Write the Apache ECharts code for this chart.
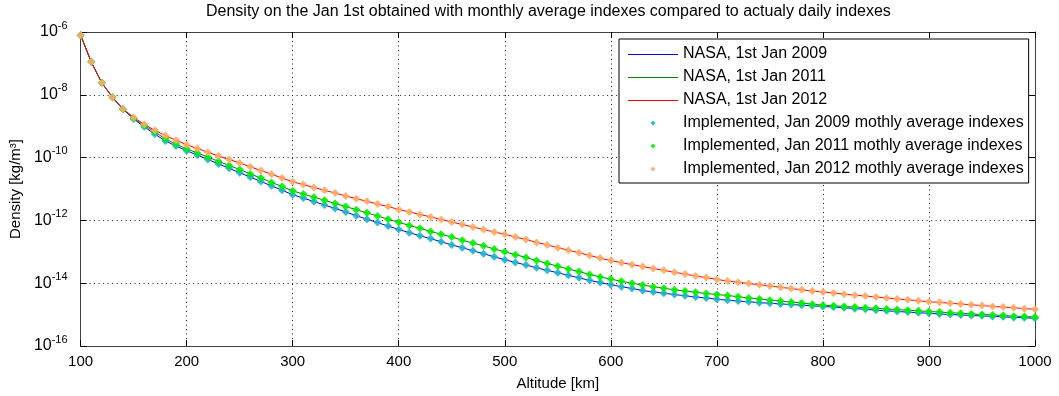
<!DOCTYPE html>
<html>
<head>
<meta charset="utf-8">
<script src="https://cdn.jsdelivr.net/npm/echarts@6/dist/echarts.min.js"></script>
<style>
  html, body { margin: 0; padding: 0; background: #fff; }
  #chart { width: 1059px; height: 396px; }
</style>
</head>
<body>
<div id="chart"></div>
<script>
// altitude samples (km), one every 10 km as in the picture
const altitudes = [
  100, 110, 120, 130, 140, 150, 160, 170, 180, 190,
  200, 210, 220, 230, 240, 250, 260, 270, 280, 290,
  300, 310, 320, 330, 340, 350, 360, 370, 380, 390,
  400, 410, 420, 430, 440, 450, 460, 470, 480, 490,
  500, 510, 520, 530, 540, 550, 560, 570, 580, 590,
  600, 610, 620, 630, 640, 650, 660, 670, 680, 690,
  700, 710, 720, 730, 740, 750, 760, 770, 780, 790,
  800, 810, 820, 830, 840, 850, 860, 870, 880, 890,
  900, 910, 920, 930, 940, 950, 960, 970, 980, 990,
  1000
];

// density, as log10(kg/m^3)
const logRho2009 = [
  -6.10, -6.95, -7.62, -8.08, -8.46, -8.77, -9.02, -9.25, -9.47, -9.63,
  -9.78, -9.92, -10.06, -10.20, -10.34, -10.48, -10.62, -10.76, -10.90, -11.04,
  -11.18, -11.29, -11.40, -11.51, -11.62, -11.73, -11.85, -11.96, -12.07, -12.18,
  -12.29, -12.39, -12.49, -12.58, -12.68, -12.78, -12.87, -12.97, -13.06, -13.16,
  -13.25, -13.34, -13.42, -13.51, -13.59, -13.67, -13.75, -13.83, -13.91, -13.98,
  -14.05, -14.11, -14.17, -14.23, -14.28, -14.32, -14.36, -14.40, -14.44, -14.47,
  -14.51, -14.54, -14.57, -14.59, -14.62, -14.64, -14.66, -14.68, -14.70, -14.72,
  -14.74, -14.76, -14.78, -14.81, -14.83, -14.86, -14.88, -14.90, -14.92, -14.94,
  -14.96, -14.98, -15.00, -15.01, -15.03, -15.04, -15.06, -15.07, -15.09, -15.10,
  -15.12
];

const logRho2011 = [
  -6.10, -6.95, -7.62, -8.08, -8.46, -8.75, -8.98, -9.18, -9.41, -9.57,
  -9.72, -9.85, -9.98, -10.12, -10.25, -10.38, -10.52, -10.65, -10.79, -10.92,
  -11.06, -11.16, -11.26, -11.36, -11.46, -11.56, -11.66, -11.76, -11.86, -11.96,
  -12.06, -12.16, -12.25, -12.35, -12.44, -12.53, -12.63, -12.72, -12.81, -12.91,
  -13.00, -13.09, -13.18, -13.28, -13.37, -13.46, -13.55, -13.63, -13.72, -13.80,
  -13.87, -13.94, -14.00, -14.06, -14.11, -14.16, -14.21, -14.25, -14.29, -14.33,
  -14.36, -14.39, -14.43, -14.47, -14.50, -14.54, -14.57, -14.60, -14.63, -14.67,
  -14.70, -14.72, -14.74, -14.76, -14.78, -14.80, -14.82, -14.84, -14.86, -14.88,
  -14.90, -14.92, -14.94, -14.96, -14.98, -15.00, -15.01, -15.03, -15.05, -15.06,
  -15.08
];

const logRho2012 = [
  -6.10, -6.95, -7.62, -8.08, -8.45, -8.72, -8.94, -9.13, -9.30, -9.45,
  -9.59, -9.71, -9.83, -9.95, -10.06, -10.17, -10.29, -10.41, -10.53, -10.65,
  -10.77, -10.86, -10.95, -11.04, -11.13, -11.22, -11.31, -11.39, -11.48, -11.56,
  -11.65, -11.73, -11.81, -11.89, -11.97, -12.05, -12.13, -12.21, -12.29, -12.37,
  -12.44, -12.53, -12.61, -12.70, -12.78, -12.87, -12.95, -13.03, -13.12, -13.20,
  -13.28, -13.35, -13.41, -13.47, -13.53, -13.59, -13.65, -13.71, -13.77, -13.82,
  -13.88, -13.93, -13.97, -14.01, -14.05, -14.09, -14.13, -14.17, -14.21, -14.25,
  -14.28, -14.31, -14.35, -14.38, -14.41, -14.44, -14.47, -14.50, -14.53, -14.56,
  -14.59, -14.61, -14.64, -14.66, -14.69, -14.71, -14.74, -14.76, -14.78, -14.81,
  -14.83
];

const xTicks = [100, 200, 300, 400, 500, 600, 700, 800, 900, 1000];
const yExponents = [-16, -14, -12, -10, -8, -6];

const FONT = 'Liberation Sans, Arial, sans-serif';
// legend icons: a 1px bar inside a 50x8 box, and a small diamond inside an 8x8 box
const LINE_ICON = 'path://M0,0L50,0L50,0.001Z M0,4L50,4L50,5L0,5Z M0,8L50,8L50,7.999Z';
const DOT_ICON = 'path://M0,-1L1,0L0,1L-1,0Z M-1.6,-1.6L-1.599,-1.6L-1.6,-1.599Z M1.6,1.6L1.599,1.6L1.6,1.599Z';

const pairs = (ys) => altitudes.map((a, i) => [a, ys[i]]);

const lineSeries = (name, ys, color) => ({
  name,
  type: 'line',
  data: pairs(ys),
  symbol: 'none',
  showSymbol: false,
  lineStyle: { color, width: 1 },
  itemStyle: { color },
  z: 2,
});

const markSeries = (name, ys, color) => ({
  name,
  type: 'scatter',
  data: pairs(ys),
  symbol: 'diamond',
  symbolSize: 8,
  itemStyle: { color, opacity: 0.9 },
  z: 3,
});

const axisLine = { show: true, lineStyle: { color: '#404040', width: 1 } };
const gridLine = { show: true, lineStyle: { color: '#222', width: 1, type: [1, 3.5] } };
const tick = { show: true, inside: true, length: 6, lineStyle: { color: '#000' } };

const chart = echarts.init(document.getElementById('chart'), null, { renderer: 'canvas' });

chart.setOption({
  animation: false,
  backgroundColor: '#fff',
  textStyle: { fontFamily: FONT },
  title: {
    text: 'Density on the Jan 1st obtained with monthly average indexes compared to actualy daily indexes',
    left: 206,
    top: 4,
    padding: 0,
    textStyle: { color: '#000', fontSize: 16, fontWeight: 'normal', fontFamily: FONT },
  },
  grid: { left: 75, right: 24, top: 32, bottom: 50, containLabel: false },
  legend: {
    orient: 'vertical',
    left: 619,
    top: 39,
    padding: [7, 5, 6, 9],
    itemWidth: 50,
    itemHeight: 8,
    itemGap: 7,
    backgroundColor: '#fff',
    borderColor: '#000',
    borderWidth: 1,
    borderRadius: 0,
    textStyle: { color: '#000', fontSize: 16, lineHeight: 16, fontFamily: FONT },
    data: [
      { name: 'NASA, 1st Jan 2009', icon: LINE_ICON },
      { name: 'NASA, 1st Jan 2011', icon: LINE_ICON },
      { name: 'NASA, 1st Jan 2012', icon: LINE_ICON },
      { name: 'Implemented, Jan 2009 mothly average indexes', icon: DOT_ICON },
      { name: 'Implemented, Jan 2011 mothly average indexes', icon: DOT_ICON },
      { name: 'Implemented, Jan 2012 mothly average indexes', icon: DOT_ICON },
    ],
  },
  xAxis: [
    {
      type: 'value',
      min: xTicks[0],
      max: xTicks[xTicks.length - 1],
      interval: 100,
      name: 'Altitude [km]',
      nameLocation: 'middle',
      nameGap: 30,
      nameTextStyle: { color: '#000', fontSize: 15, fontFamily: FONT },
      axisLine,
      axisTick: tick,
      axisLabel: { color: '#000', fontSize: 15, margin: 8, fontFamily: FONT, formatter: (v) => String(v) },
      splitLine: gridLine,
    },
    {
      type: 'value',
      position: 'top',
      min: xTicks[0],
      max: xTicks[xTicks.length - 1],
      interval: 100,
      axisLine,
      axisTick: tick,
      axisLabel: { show: false },
      splitLine: { show: false },
    },
  ],
  yAxis: [
    {
      type: 'value',
      min: yExponents[0],
      max: yExponents[yExponents.length - 1],
      interval: 2,
      name: 'Density [kg/m³]',
      nameLocation: 'middle',
      nameGap: 49,
      nameTextStyle: { color: '#000', fontSize: 15, fontFamily: FONT },
      axisLine,
      axisTick: tick,
      axisLabel: {
        margin: 13,
        formatter: (v) => '{b|10}{s|' + v + '}',
        rich: {
          b: { fontSize: 16, lineHeight: 16, color: '#000', fontFamily: FONT },
          s: { fontSize: 11, lineHeight: 11, color: '#000', fontFamily: FONT, padding: [0, 0, 13, 0] },
        },
      },
      splitLine: gridLine,
    },
    {
      type: 'value',
      position: 'right',
      min: yExponents[0],
      max: yExponents[yExponents.length - 1],
      interval: 2,
      axisLine,
      axisTick: tick,
      axisLabel: { show: false },
      splitLine: { show: false },
    },
  ],
  series: [
    lineSeries('NASA, 1st Jan 2009', logRho2009, '#0000ff'),
    lineSeries('NASA, 1st Jan 2011', logRho2011, '#008000'),
    lineSeries('NASA, 1st Jan 2012', logRho2012, '#ff0000'),
    markSeries('Implemented, Jan 2009 mothly average indexes', logRho2009, '#20b4c8'),
    markSeries('Implemented, Jan 2011 mothly average indexes', logRho2011, '#00f000'),
    markSeries('Implemented, Jan 2012 mothly average indexes', logRho2012, '#ffaa66'),
  ],
});
</script>
</body>
</html>
